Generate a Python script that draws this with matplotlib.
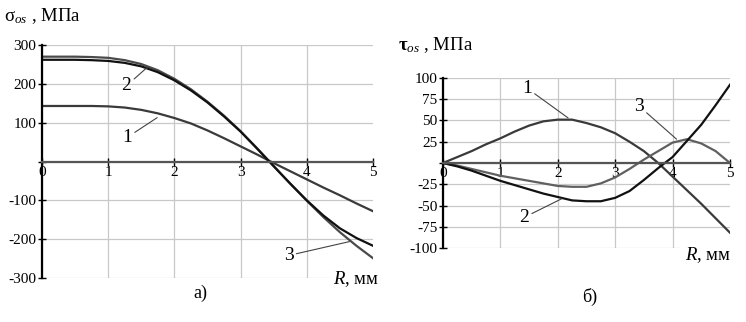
import numpy as np
import matplotlib
matplotlib.use("Agg")
from matplotlib import pyplot as plt

plt.rcParams['font.family'] = ['Liberation Serif', 'DejaVu Serif']
plt.rcParams['mathtext.fontset'] = 'custom'
plt.rcParams['mathtext.rm'] = 'Liberation Serif'
plt.rcParams['mathtext.it'] = 'Liberation Serif:italic'
plt.rcParams['mathtext.bf'] = 'Liberation Serif:bold'

# a) sigma_os, MPa
R_a = [0, 0.25, 0.5, 0.75, 1, 1.25, 1.5, 1.75, 2, 2.25, 2.5, 2.75, 3, 3.25, 3.5, 3.75, 4, 4.25, 4.5, 4.75, 5]
sig1 = [143, 143, 143, 143, 142, 139, 133, 124, 112, 98, 80, 60, 39, 18, -4, -25, -46, -67, -87, -108, -128]
sig2 = [262, 262, 262, 261, 259, 254, 245, 230, 209, 183, 152, 116, 77, 33, -12, -57, -100, -139, -172, -197, -217]
sig3 = [270, 270, 270, 269, 267, 261, 251, 235, 213, 186, 154, 118, 78, 34, -12, -57, -101, -143, -182, -217, -249]

# b) tau_os, MPa
R_b = [0, 0.25, 0.5, 0.75, 1, 1.25, 1.5, 1.75, 2, 2.25, 2.5, 2.75, 3, 3.25, 3.5, 3.75, 4, 4.25, 4.5, 4.75, 5]
tau1 = [0, 7, 14, 22, 29, 37, 44, 49, 51, 51, 47, 42, 35, 25, 14, 0, -16, -32, -48, -65, -82]
tau2 = [0, -4, -9, -15, -21, -26, -31, -36, -40, -44, -45, -45, -41, -33, -20, -6, 7, 26, 45, 68, 92]
tau3 = [0, -3, -7, -11, -15, -18, -21, -24, -27, -28, -28, -24, -17, -7, 4, 14, 24, 28, 23, 14, 0]

fig = plt.figure(figsize=(7.46, 3.22), dpi=100)
ax1 = fig.add_axes([0.0563, 0.1366, 0.4437, 0.7236])
ax2 = fig.add_axes([0.5938, 0.2298, 0.3847, 0.528])

def style(ax, yt, ylim):
    ax.set_xlim(0, 5)
    ax.set_ylim(*ylim)
    ax.set_xticks([0, 1, 2, 3, 4, 5])
    ax.set_yticks(yt)
    ax.set_yticklabels(['' if v == 0 else str(v) for v in yt])
    ax.spines['top'].set_visible(False)
    ax.spines['right'].set_visible(False)
    ax.spines['bottom'].set_position(('data', 0))
    ax.spines['bottom'].set_color('#555555')
    ax.spines['bottom'].set_linewidth(1.6)
    ax.spines['left'].set_linewidth(1.6)
    ax.tick_params(axis='both', direction='inout', length=6, width=1, labelsize=11, pad=1)
    ax.tick_params(axis='x', pad=0)
    ax.grid(True, color='#c8c8c8', lw=0.9)
    for g in ax.get_xgridlines()[-1:]:
        g.set_visible(False)
    ax.set_axisbelow(True)

style(ax1, [-300, -200, -100, 0, 100, 200, 300], (-300, 300))
ax1.plot(R_a, sig1, color='#3a3a3a', lw=1.6)
ax1.plot(R_a, sig3, color='#4a4a4a', lw=1.6)
ax1.plot(R_a, sig2, color='#111111', lw=1.6)

style(ax2, [-100, -75, -50, -25, 0, 25, 50, 75, 100], (-100, 100))
ax2.plot(R_b, tau1, color='#3a3a3a', lw=1.6)
ax2.plot(R_b, tau3, color='#606060', lw=1.6)
ax2.plot(R_b, tau2, color='#111111', lw=1.6)

# curve labels with leader lines
def note(ax, s, xy, xytext):
    ax.annotate(s, xy=xy, xytext=xytext, fontsize=14, ha='right', va='center',
                arrowprops=dict(arrowstyle='-', color='#444444', lw=0.8,
                                shrinkA=0, shrinkB=0), annotation_clip=False)

note(ax1, '2', (1.58, 241), (1.35, 195))
note(ax1, '1', (1.74, 113), (1.36, 62))
note(ax1, '3', (4.65, -206), (3.8, -242))
note(ax2, '1', (2.18, 53), (1.55, 88))
note(ax2, '2', (2.07, -42), (1.50, -64))
note(ax2, '3', (4.07, 28), (3.5, 67))

ax1.text(4.4, -302, '$R$, мм', fontsize=13.5, ha='left', va='center',
         bbox=dict(fc='white', ec='none', pad=2))
ax2.text(4.22, -108, '$R$, мм', fontsize=13.5, ha='left', va='center',
         bbox=dict(fc='white', ec='none', pad=4))

fig.text(0.005, 0.95, 'σ$_{os}$ , МПа', fontsize=13.5, ha='left', va='center')
fig.text(0.533, 0.86, r'$\mathbf{\tau}_{os}$ , МПа', fontsize=13.5, ha='left', va='center')
fig.text(0.268, 0.09, 'а)', fontsize=13, ha='center', va='center')
fig.text(0.791, 0.078, 'б)', fontsize=13, ha='center', va='center')

fig.savefig('out.png', dpi=100)
